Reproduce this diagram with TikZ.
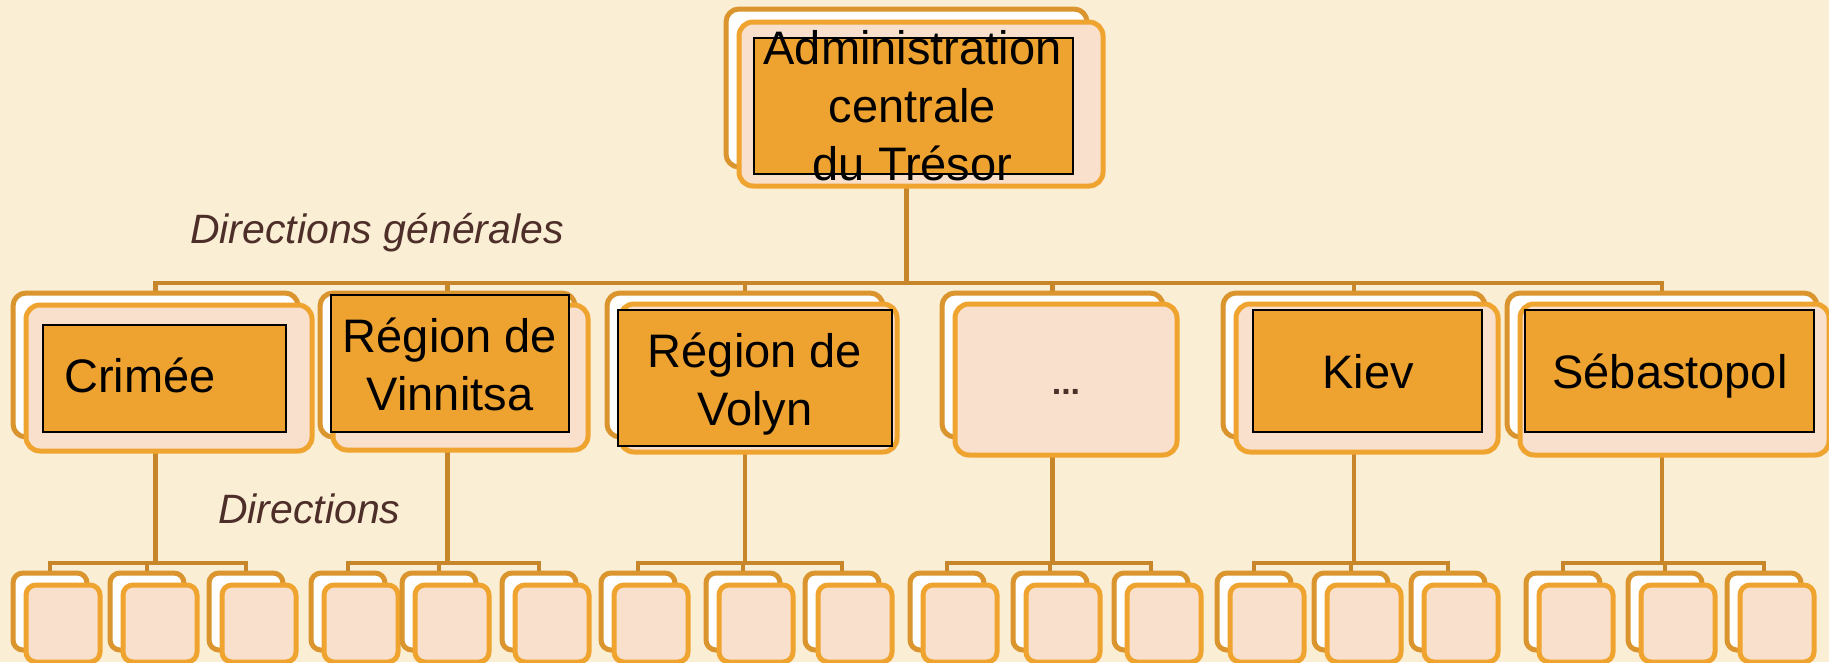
\documentclass[tikz,border=0pt]{standalone}
\usepackage{fontspec}
\setmainfont{Liberation Sans}
\usetikzlibrary{calc,backgrounds}
\definecolor{bgc}{HTML}{FAEED5}
\definecolor{connc}{HTML}{C8862A}
\definecolor{backc}{HTML}{DB952F}
\definecolor{frontc}{HTML}{F0A430}
\definecolor{frontfill}{HTML}{F8E0CC}
\definecolor{innerc}{HTML}{EEA22F}
\definecolor{labc}{HTML}{4E2E28}
\begin{document}
\begin{tikzpicture}[x=1pt,y=-1pt,
  backbox/.style={draw=backc,fill=white,line width=5pt,rounded corners=13pt,inner sep=0pt,outer sep=0pt},
  frontbox/.style={draw=frontc,fill=frontfill,line width=5pt,rounded corners=14pt,inner sep=0pt,outer sep=0pt},
  innerbox/.style={draw=black,fill=innerc,line width=1.5pt,inner sep=0pt,outer sep=0pt},
  boxtext/.style={font=\fontsize{47}{58}\selectfont,align=center,inner sep=0pt,text=black},
  lbl/.style={font=\fontsize{41}{48}\selectfont\itshape,text=labc,inner sep=0pt},
  conn/.style={draw=connc,line width=4.5pt},
  sback/.style={backbox,minimum width=74pt,minimum height=77pt,rounded corners=10pt},
  sfront/.style={frontbox,minimum width=74pt,minimum height=77pt,rounded corners=10pt},
]
\useasboundingbox (0,0) rectangle (1829,662);
\coordinate (bus) at (0,283);
\coordinate (sbus) at (0,563);

% top node
\node[backbox,minimum width=361pt,minimum height=158pt] (topb) at (906.5,88) {};
\node[frontbox,minimum width=364pt,minimum height=164pt] (topf) at (921,104) {};
\node[innerbox,minimum width=319pt,minimum height=136pt] (topi) at (913.5,106) {};
\node[boxtext] (ttop) at (912.5,106) {Administration\\centrale\\du Trésor};

% level 2
\node[backbox,minimum width=285pt,minimum height=144pt] (c1b) at (155.5,365) {};
\node[frontbox,minimum width=286pt,minimum height=146pt] (c1f) at (169,378) {};
\node[innerbox,minimum width=243pt,minimum height=107pt] (c1i) at (164.5,378.5) {};
\node[boxtext,anchor=base] (c1t) at (140,392) {Crimée};

\node[backbox,minimum width=255pt,minimum height=144pt] (c2b) at (447.5,365) {};
\node[frontbox,minimum width=255pt,minimum height=145pt] (c2f) at (460.5,377.5) {};
\node[innerbox,minimum width=238pt,minimum height=137pt] (c2i) at (450,363.5) {};
\node[boxtext] (c2t) at (450,364) {Région de\\Vinnitsa};

\node[backbox,minimum width=276pt,minimum height=144pt] (c3b) at (745,365) {};
\node[frontbox,minimum width=277pt,minimum height=148pt] (c3f) at (758.5,378) {};
\node[innerbox,minimum width=274pt,minimum height=136pt] (c3i) at (755,378) {};
\node[boxtext] (c3t) at (755,384.5) {Région de\\Volyn};

\node[backbox,minimum width=221pt,minimum height=144pt] (c4b) at (1052.5,365) {};
\node[frontbox,minimum width=222pt,minimum height=151pt] (c4f) at (1066,379.5) {};
\node[font=\fontsize{34}{40}\selectfont\bfseries,text=labc,inner sep=0pt,anchor=base] (c4t) at (1066,394) {...};

\node[backbox,minimum width=262pt,minimum height=144pt] (c5b) at (1354,365) {};
\node[frontbox,minimum width=262pt,minimum height=148pt] (c5f) at (1367,378) {};
\node[innerbox,minimum width=229pt,minimum height=122pt] (c5i) at (1367.5,371) {};
\node[boxtext,anchor=base] (c5t) at (1368,388) {Kiev};

\node[backbox,minimum width=310pt,minimum height=144pt] (c6b) at (1662,365) {};
\node[frontbox,minimum width=309pt,minimum height=151pt] (c6f) at (1674.5,379.5) {};
\node[innerbox,minimum width=289pt,minimum height=122pt] (c6i) at (1669.5,371) {};
\node[boxtext,anchor=base] (c6t) at (1670,388) {Sébastopol};

% level 3
\foreach \g/\xa/\xb/\xc in {c1/50/147/246, c2/348/439/539, c3/638/743/842, c4/947/1050/1151, c5/1254/1351/1448, c6/1563/1665/1764} {
  \foreach \xx [count=\j] in {\xa,\xb,\xc} {
    \node[sback] (\g-s\j-b) at (\xx,611.5) {};
    \node[sfront] (\g-s\j-f) at (\xx+13,623.5) {};
  }
}

% labels
\node[lbl,anchor=base west] (dg) at (190,243) {Directions générales};
\node[lbl,anchor=base west] (dir) at (218,523) {Directions};

% background and connectors
\begin{scope}[on background layer]
\fill[bgc] (0,0) rectangle (1829,662);
\foreach \c in {c1,c2,c3,c4,c5,c6} {
  \draw[conn] (topb.south) -- (topb.south |- bus) -| (\c b.north);
  \foreach \j in {1,2,3} {
    \draw[conn] (\c b.south) -- (\c b.south |- sbus) -| (\c-s\j-b.north);
  }
}
\end{scope}
\end{tikzpicture}
\end{document}
